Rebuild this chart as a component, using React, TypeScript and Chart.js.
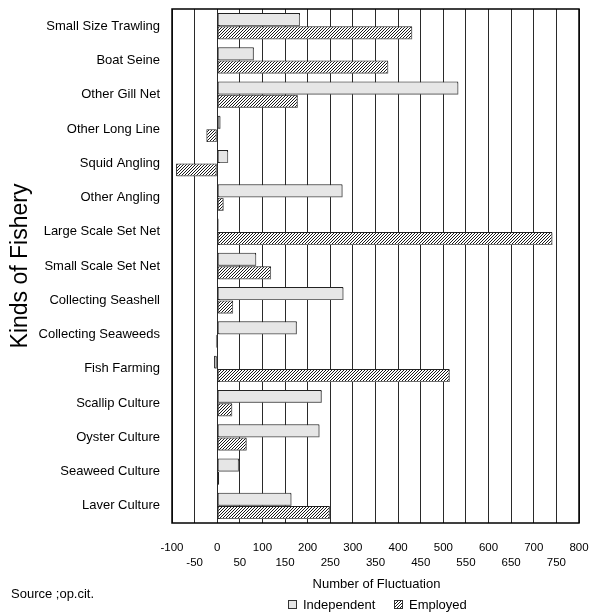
import React, { useEffect, useRef } from 'react';
import { Chart, registerables } from 'chart.js';

Chart.register(...registerables);

const categories = [
  'Small Size Trawling',
  'Boat Seine',
  'Other Gill Net',
  'Other Long Line',
  'Squid Angling',
  'Other Angling',
  'Large Scale Set Net',
  'Small Scale Set Net',
  'Collecting Seashell',
  'Collecting Seaweeds',
  'Fish Farming',
  'Scallip Culture',
  'Oyster Culture',
  'Seaweed Culture',
  'Laver Culture',
];

const independent = [183, 81, 533, 7, 24, 277, 3, 86, 279, 176, -7, 231, 226, 48, 164];
const employed = [431, 378, 178, -24, -91, 14, 741, 119, 35, -3, 514, 33, 65, 4, 249];

const xMin = -100;
const xMax = 800;
const xStep = 50;

const xTitle = 'Number of Fluctuation';
const yTitle = 'Kinds of Fishery';
const sourceText = 'Source ;op.cit.';
const seriesNames = ['Independent', 'Employed'];

const FONT = '"Liberation Sans", Arial, Helvetica, sans-serif';

function makeHatch(): CanvasPattern | string {
  const s = 3;
  const c = document.createElement('canvas');
  c.width = s;
  c.height = s;
  const g = c.getContext('2d');
  if (!g) return '#888';
  g.fillStyle = '#ffffff';
  g.fillRect(0, 0, s, s);
  g.strokeStyle = '#000000';
  g.lineWidth = 0.9;
  g.beginPath();
  g.moveTo(-1, s + 1);
  g.lineTo(s + 1, -1);
  g.moveTo(-1, 1);
  g.lineTo(1, -1);
  g.moveTo(s - 1, s + 1);
  g.lineTo(s + 1, s - 1);
  g.stroke();
  const p = g.createPattern(c, 'repeat');
  return p || '#888';
}

export default function App() {
  const ref = useRef<HTMLCanvasElement | null>(null);

  useEffect(() => {
    const canvas = ref.current;
    if (!canvas) return;
    const hatch = makeHatch();

    const overlay = {
      id: 'overlay',
      beforeDatasetsDraw(chart: any) {
        const ctx = chart.ctx;
        ctx.save();
        ctx.shadowColor = 'rgba(120,120,120,0.9)';
        ctx.shadowOffsetX = 1;
        ctx.shadowOffsetY = 1;
        ctx.shadowBlur = 0;
      },
      afterDatasetsDraw(chart: any) {
        chart.ctx.restore();
      },
      afterDraw(chart: any) {
        const ctx = chart.ctx;
        const a = chart.chartArea;
        ctx.save();
        // plot border
        ctx.strokeStyle = '#000';
        ctx.lineWidth = 1.5;
        ctx.strokeRect(a.left, a.top, a.right - a.left, a.bottom - a.top);
        // x title
        ctx.fillStyle = '#000';
        ctx.font = `13px ${FONT}`;
        ctx.textAlign = 'center';
        ctx.textBaseline = 'middle';
        ctx.fillText(xTitle, (a.left + a.right) / 2 + 1, 584);
        // source
        ctx.textAlign = 'left';
        ctx.font = `13px ${FONT}`;
        ctx.fillText(sourceText, 11, 594);
        // legend
        ctx.font = `13px ${FONT}`;
        ctx.lineWidth = 1;
        ctx.strokeStyle = '#333';
        ctx.fillStyle = '#e6e6e6';
        ctx.fillRect(288.5, 600.5, 8, 8);
        ctx.strokeRect(288.5, 600.5, 8, 8);
        ctx.fillStyle = '#000';
        ctx.fillText(seriesNames[0], 303, 605);
        ctx.fillStyle = hatch as any;
        ctx.fillRect(394.5, 600.5, 8, 8);
        ctx.strokeRect(394.5, 600.5, 8, 8);
        ctx.fillStyle = '#000';
        ctx.fillText(seriesNames[1], 409, 605);
        ctx.restore();
      },
    };

    const chart = new Chart(canvas, {
      type: 'bar',
      data: {
        labels: categories,
        datasets: [
          {
            label: seriesNames[0],
            data: independent,
            backgroundColor: '#e6e6e6',
            borderColor: '#222',
            borderWidth: 1,
            borderSkipped: false,
            categoryPercentage: 0.78,
            barPercentage: 0.97,
          },
          {
            label: seriesNames[1],
            data: employed,
            backgroundColor: hatch as any,
            borderColor: '#222',
            borderWidth: 1,
            borderSkipped: false,
            categoryPercentage: 0.78,
            barPercentage: 0.97,
          },
        ],
      },
      options: {
        indexAxis: 'y',
        animation: false,
        responsive: false,
        maintainAspectRatio: false,
        layout: { padding: { top: 9, right: 11, left: 0, bottom: 0 } },
        plugins: {
          legend: { display: false },
          tooltip: { enabled: false },
          title: { display: false },
        },
        scales: {
          x: {
            type: 'linear',
            min: xMin,
            max: xMax,
            grid: { color: '#2a2a2a', lineWidth: 1, drawTicks: false },
            border: { display: false },
            ticks: {
              stepSize: xStep,
              autoSkip: false,
              maxRotation: 0,
              minRotation: 0,
              padding: 18,
              color: '#000',
              font: { family: FONT, size: 11.5, lineHeight: 1.25 },
              callback: (value: any, index: number) =>
                index % 2 === 0 ? [String(value), ''] : ['', String(value)],
            },
            afterFit: (scale: any) => {
              scale.height = 90;
              scale.paddingLeft = 0;
              scale.paddingRight = 0;
            },
          },
          y: {
            type: 'category',
            grid: { display: false, drawTicks: false },
            border: { display: false },
            ticks: {
              color: '#000',
              padding: 12,
              font: { family: FONT, size: 13 },
            },
            title: {
              display: true,
              text: yTitle,
              color: '#000',
              font: { family: FONT, size: 23 },
              padding: { top: 7, bottom: 0 },
            },
            afterFit: (scale: any) => {
              scale.width = 172;
              scale.paddingTop = 0;
              scale.paddingBottom = 0;
            },
          },
        },
      },
      plugins: [overlay],
    });

    return () => chart.destroy();
  }, []);

  return (
    <div style={{ position: 'absolute', left: 0, top: 0, width: 590, height: 613 }}>
      <canvas ref={ref} width={590} height={613} style={{ width: 590, height: 613 }} />
    </div>
  );
}
